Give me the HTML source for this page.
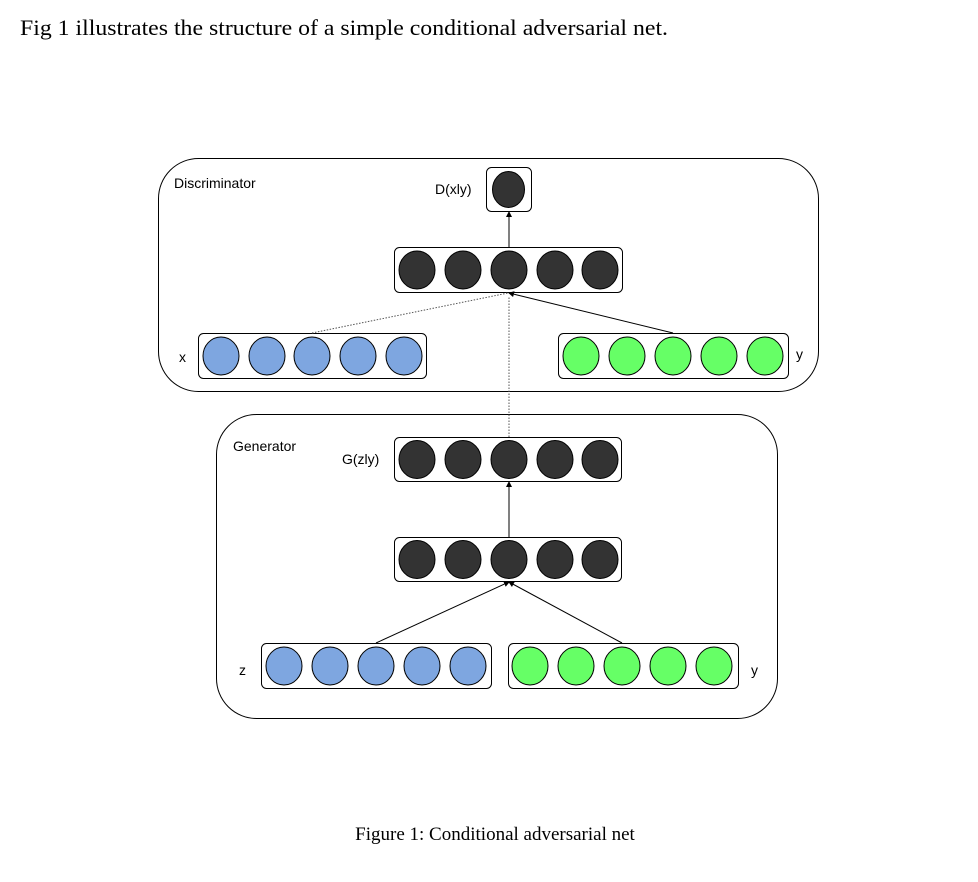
<!DOCTYPE html>
<html><head><meta charset="utf-8"><style>html,body{margin:0;padding:0;background:#fff}svg{display:block}</style></head>
<body>
<svg width="978" height="882" viewBox="0 0 978 882" xmlns="http://www.w3.org/2000/svg">
<defs><marker id="a" markerWidth="6" markerHeight="6" refX="5" refY="3" orient="auto" markerUnits="userSpaceOnUse"><path d="M0,0 L6,3 L0,6 z" fill="#000"/></marker></defs>
<text x="20" y="35" font-family="Liberation Serif, serif" font-size="22" textLength="648" lengthAdjust="spacingAndGlyphs">Fig 1 illustrates the structure of a simple conditional adversarial net.</text>
<g fill="none" stroke="#000" stroke-width="1">
<rect x="158.5" y="158.5" width="660" height="233" rx="40"/>
<rect x="216.5" y="414.5" width="561" height="304" rx="40"/>
<rect x="486.5" y="167.5" width="45" height="44" rx="5"/>
<rect x="394.5" y="247.5" width="228" height="45" rx="5"/>
<rect x="198.5" y="333.5" width="228" height="45" rx="5"/>
<rect x="558.5" y="333.5" width="230" height="45" rx="5"/>
<rect x="394.5" y="437.5" width="227" height="44" rx="5"/>
<rect x="394.5" y="537.5" width="227" height="44" rx="5"/>
<rect x="261.5" y="643.5" width="230" height="45" rx="5"/>
<rect x="508.5" y="643.5" width="230" height="45" rx="5"/>
<line x1="509" y1="247" x2="509" y2="212" marker-end="url(#a)"/>
<line x1="312" y1="333" x2="508" y2="293" stroke-dasharray="1.5,1.5" stroke="#555"/>
<line x1="673" y1="333" x2="509" y2="293" marker-end="url(#a)"/>
<line x1="509" y1="437" x2="509" y2="296" stroke-dasharray="1.5,1.5" stroke="#555"/>
<line x1="509" y1="537" x2="509" y2="482" marker-end="url(#a)"/>
<line x1="376" y1="643" x2="509" y2="582" marker-end="url(#a)"/>
<line x1="622" y1="643" x2="509" y2="582" marker-end="url(#a)"/>
</g>
<g stroke="#000" stroke-width="1">
<ellipse cx="508.5" cy="189.5" rx="16" ry="18" fill="#333"/>
<g fill="#333">
<ellipse cx="417" cy="270" rx="18" ry="19"/><ellipse cx="463" cy="270" rx="18" ry="19"/><ellipse cx="509" cy="270" rx="18" ry="19"/><ellipse cx="555" cy="270" rx="18" ry="19"/><ellipse cx="600" cy="270" rx="18" ry="19"/>
<ellipse cx="417" cy="459.5" rx="18" ry="19"/><ellipse cx="463" cy="459.5" rx="18" ry="19"/><ellipse cx="509" cy="459.5" rx="18" ry="19"/><ellipse cx="555" cy="459.5" rx="18" ry="19"/><ellipse cx="600" cy="459.5" rx="18" ry="19"/>
<ellipse cx="417" cy="559.5" rx="18" ry="19"/><ellipse cx="463" cy="559.5" rx="18" ry="19"/><ellipse cx="509" cy="559.5" rx="18" ry="19"/><ellipse cx="555" cy="559.5" rx="18" ry="19"/><ellipse cx="600" cy="559.5" rx="18" ry="19"/>
</g>
<g fill="#7ea6e0">
<ellipse cx="221" cy="356" rx="18" ry="19"/><ellipse cx="267" cy="356" rx="18" ry="19"/><ellipse cx="312" cy="356" rx="18" ry="19"/><ellipse cx="358" cy="356" rx="18" ry="19"/><ellipse cx="404" cy="356" rx="18" ry="19"/>
<ellipse cx="284" cy="666" rx="18" ry="19"/><ellipse cx="330" cy="666" rx="18" ry="19"/><ellipse cx="376" cy="666" rx="18" ry="19"/><ellipse cx="422" cy="666" rx="18" ry="19"/><ellipse cx="468" cy="666" rx="18" ry="19"/>
</g>
<g fill="#66ff66">
<ellipse cx="581" cy="356" rx="18" ry="19"/><ellipse cx="627" cy="356" rx="18" ry="19"/><ellipse cx="673" cy="356" rx="18" ry="19"/><ellipse cx="719" cy="356" rx="18" ry="19"/><ellipse cx="765" cy="356" rx="18" ry="19"/>
<ellipse cx="530" cy="666" rx="18" ry="19"/><ellipse cx="576" cy="666" rx="18" ry="19"/><ellipse cx="622" cy="666" rx="18" ry="19"/><ellipse cx="668" cy="666" rx="18" ry="19"/><ellipse cx="714" cy="666" rx="18" ry="19"/>
</g>
</g>
<g font-family="Liberation Sans, sans-serif" font-size="14" fill="#000">
<text x="174" y="188">Discriminator</text>
<text x="435" y="194">D(xly)</text>
<text x="179" y="362">x</text>
<text x="796" y="359">y</text>
<text x="233" y="451">Generator</text>
<text x="342" y="464">G(zly)</text>
<text x="239" y="675">z</text>
<text x="751" y="675">y</text>
</g>
<text x="495" y="840" text-anchor="middle" font-family="Liberation Serif, serif" font-size="19">Figure 1: Conditional adversarial net</text>
</svg>
</body></html>
